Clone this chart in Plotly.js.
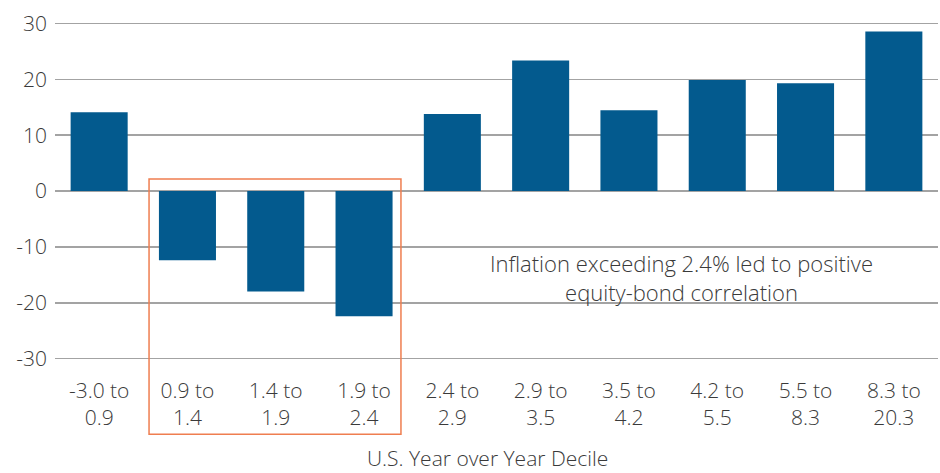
<!DOCTYPE html>
<html>
<head>
<meta charset="utf-8">
<script src="https://cdn.plot.ly/plotly-3.0.1.min.js"></script>
<style>html,body{margin:0;padding:0;background:#fff;}#chart{width:940px;height:473px;}</style>
</head>
<body>
<div id="chart"></div>
<script>
const categories = ["-3.0 to<br>0.9", "0.9 to<br>1.4", "1.4 to<br>1.9", "1.9 to<br>2.4", "2.4 to<br>2.9",
                    "2.9 to<br>3.5", "3.5 to<br>4.2", "4.2 to<br>5.5", "5.5 to<br>8.3", "8.3 to<br>20.3"];
const correlation = [14.1, -12.4, -18.0, -22.4, 13.8, 23.4, 14.5, 19.9, 19.3, 28.6];
const yTickVals = [-30, -20, -10, 0, 10, 20, 30];
const yTickText = ["-30", "-20", "-10", "0", "10", "20", "30"];
const noteText = "Inflation exceeding 2.4% led to positive<br>equity-bond correlation";
const xTitle = "U.S. Year over Year Decile";

const textColor = "#3a3a3a";
const fontFamily = "'Open Sans', 'DejaVu Sans', sans-serif";

const trace = {
  type: "bar",
  x: categories,
  y: correlation,
  marker: {color: "#035a8e"},
  hoverinfo: "x+y"
};

const layout = {
  width: 940, height: 473,
  margin: {l: 55, r: 2, t: 18, b: 106},
  paper_bgcolor: "#fff", plot_bgcolor: "#fff",
  bargap: 0.354,
  showlegend: false,
  font: {family: fontFamily, size: 21, color: textColor, weight: 300},
  xaxis: {
    type: "category",
    showgrid: false, zeroline: false, showline: false,
    ticks: "", ticklabelstandoff: 9,
    tickfont: {size: 21, color: textColor, weight: 300}
  },
  yaxis: {
    range: [-31.5, 31],
    tickvals: yTickVals, ticktext: yTickText,
    showgrid: true, gridcolor: "#a3a3a3", gridwidth: 1.6,
    zeroline: false, showline: false, ticks: "",
    ticklabelstandoff: 7,
    tickfont: {size: 21, color: textColor, weight: 300}
  },
  shapes: [{
    type: "rect", xref: "paper", yref: "paper",
    x0: 0.1065, x1: 0.3918, y0: -0.193, y1: 0.539,
    line: {color: "#ef7e50", width: 1.5},
    fillcolor: "rgba(0,0,0,0)", layer: "above"
  }],
  annotations: [{
    text: noteText, xref: "x", yref: "y", x: 6.6, y: -15.4,
    showarrow: false, align: "center",
    font: {size: 22, color: textColor, weight: 300}
  }, {
    text: xTitle, xref: "paper", yref: "paper", x: 0.49, y: -0.262,
    xanchor: "center", yanchor: "middle", showarrow: false,
    font: {size: 21, color: textColor, weight: 300}
  }]
};

Plotly.newPlot("chart", [trace], layout, {displayModeBar: false, staticPlot: true});
</script>
</body>
</html>
